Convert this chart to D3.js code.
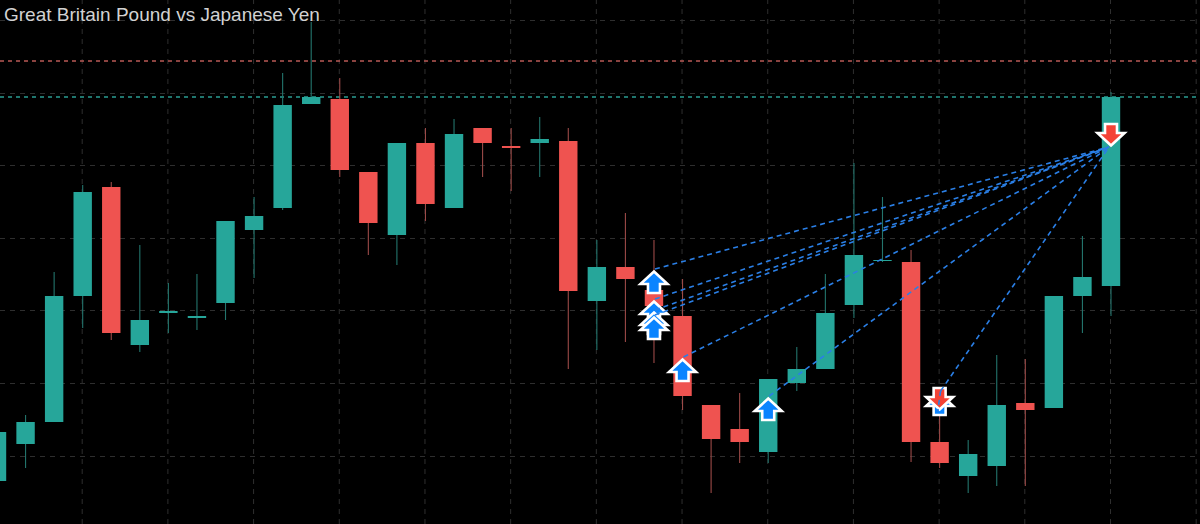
<!DOCTYPE html>
<html>
<head>
<meta charset="utf-8">
<script src="https://cdnjs.cloudflare.com/ajax/libs/d3/7.8.5/d3.min.js"></script>
<style>
html, body { margin: 0; padding: 0; background: #000; overflow: hidden; }
svg { display: block; }
</style>
</head>
<body>
<svg id="chart"></svg>
<script>
var width = 1200;
var height = 524;

// daily candles, GBPJPY
var opens = [185.19,185.56,185.78,187.04,188.13,186.55,186.87,186.82,186.97,187.70,187.92,188.96,189.01,188.28,187.65,188.57,187.92,188.72,188.54,188.57,188.59,186.99,187.33,187.10,186.84,185.95,185.71,185.48,186.17,186.31,186.95,187.39,187.38,185.58,185.24,185.34,185.97,185.92,187.04,187.14];
var highs = [185.75,185.85,187.28,188.15,188.18,187.55,187.17,187.26,187.79,188.03,189.27,189.78,189.22,188.28,188.57,188.72,188.81,188.72,188.72,188.83,188.72,187.60,187.87,187.60,187.21,185.95,186.07,186.21,186.53,187.26,188.37,188.03,187.50,186.05,185.60,186.45,186.41,187.04,187.64,189.08];
var lows = [185.10,185.32,185.78,186.72,186.60,186.48,186.67,186.70,186.80,187.22,187.90,188.96,188.23,187.45,187.35,187.79,187.92,188.23,188.09,188.23,186.31,186.50,186.58,186.37,185.90,185.07,185.37,185.37,186.09,186.31,186.82,187.38,185.38,185.32,185.07,185.14,185.14,185.92,186.67,186.84];
var closes = [185.68,185.78,187.04,188.08,186.67,186.80,186.89,186.84,187.79,187.84,188.95,189.03,188.30,187.77,188.57,187.96,188.66,188.57,188.52,188.61,187.09,187.33,187.21,186.94,186.04,185.61,185.58,186.21,186.31,186.87,187.45,187.40,185.58,185.37,185.46,185.95,185.90,187.04,187.23,189.03];

// grid
var priceTicks = [189.80,189.07,188.35,187.62,186.90,186.17,185.44];
var timeTicks = [0,3,6,9,12,15,18,21,24,27,30,33,36,39,42];

// stop loss / take profit levels
var levelPrices = [189.39,189.03];
var levelColors = ["#b95a56","#2a9d92"];

// trades
var entryIndex = [23,23,23,23,24,27,33,33];
var entryPrice = [187.31,187.01,186.90,186.85,186.43,186.04,186.09,186.09];
var exitIndex = [39,39,39,39,39,39,39,33];
var exitPrice = [188.53,188.53,188.53,188.53,188.53,188.53,188.53,185.88];
var sellIndex = [39,33];
var sellPrice = [188.52,185.88];

var titleText = "Great Britain Pound vs Japanese Yen";

var teal = "#26a69a", red = "#ef5350";
var tealWick = "#23756d", redWick = "#9c4a48";

var svg = d3.select("#chart").attr("width", width).attr("height", height);
svg.append("rect").attr("width", width).attr("height", height).attr("fill", "#000");

var x = d3.scaleLinear().domain([0, 39]).range([-3, 1111]);
var y = d3.scaleLinear().domain([184.76, 190]).range([height, 0]);

// grid drawn with axes, labels removed
var gridY = svg.append("g").call(d3.axisLeft(y).tickValues(priceTicks).tickSize(-width).tickFormat(""));
var gridX = svg.append("g").attr("transform", "translate(-1," + height + ")")
    .call(d3.axisBottom(x).tickValues(timeTicks).tickSize(-height).tickFormat(""));
svg.selectAll(".domain").remove();
svg.selectAll(".tick line")
    .attr("stroke", "#2e2e2e")
    .attr("stroke-width", 1)
    .attr("stroke-dasharray", "5,5");

// horizontal levels
svg.selectAll(".level").data(levelPrices).enter().append("line")
    .attr("class", "level")
    .attr("x1", 0).attr("x2", width)
    .attr("y1", function(d) { return y(d); })
    .attr("y2", function(d) { return y(d); })
    .attr("stroke", function(d, i) { return levelColors[i]; })
    .attr("stroke-width", 1.3)
    .attr("stroke-dasharray", "4,4");

// candles
var bodyWidth = 18.4;
var candles = opens.map(function(o, i) {
    return {i: i, o: o, h: highs[i], l: lows[i], c: closes[i], up: closes[i] >= o};
});

svg.selectAll(".wick").data(candles).enter().append("line")
    .attr("class", "wick")
    .attr("x1", function(d) { return x(d.i); })
    .attr("x2", function(d) { return x(d.i); })
    .attr("y1", function(d) { return y(d.h); })
    .attr("y2", function(d) { return y(d.l); })
    .attr("stroke", function(d) { return d.up ? tealWick : redWick; })
    .attr("stroke-width", 1.1);

svg.selectAll(".body").data(candles).enter().append("rect")
    .attr("class", "body")
    .attr("x", function(d) { return x(d.i) - bodyWidth / 2; })
    .attr("width", bodyWidth)
    .attr("y", function(d) { return y(Math.max(d.o, d.c)); })
    .attr("height", function(d) { return Math.max(1, Math.abs(y(d.o) - y(d.c))); })
    .attr("fill", function(d) { return d.up ? teal : red; });

// arrow outline, tip at 0,0 and pointing up
var arrowLine = d3.line();
var arrowShape = [[0,2.5],[13.5,15],[6,15],[6,24],[-6,24],[-6,15],[-13.5,15]];

function drawArrow(px, py, dir, fill) {
    svg.append("path")
        .attr("d", arrowLine(arrowShape) + "Z")
        .attr("transform", "translate(" + px + "," + py + ") scale(1," + dir + ")")
        .attr("fill", fill)
        .attr("stroke", "#fff")
        .attr("stroke-width", 2.6)
        .attr("stroke-linejoin", "miter")
        .attr("stroke-miterlimit", 6);
}

// buys, lowest on top of the stack
entryIndex.slice(0, 7).forEach(function(d, i) {
    drawArrow(x(d), y(entryPrice[i]), 1, "#0a84ff");
});
sellIndex.forEach(function(d, i) {
    drawArrow(x(d), y(sellPrice[i]), -1, "#f44336");
});

// trade lines
svg.selectAll(".trade").data(entryIndex).enter().append("line")
    .attr("class", "trade")
    .attr("x1", function(d) { return x(d) + 1; })
    .attr("y1", function(d, i) { return y(entryPrice[i]); })
    .attr("x2", function(d, i) { return x(exitIndex[i]) - 2; })
    .attr("y2", function(d, i) { return y(exitPrice[i]); })
    .attr("stroke", "#2a7fe6")
    .attr("stroke-width", 1.6)
    .attr("stroke-dasharray", "5,4");

svg.append("text")
    .text(titleText)
    .attr("x", 4)
    .attr("y", 21)
    .attr("font-family", "'Liberation Sans', Arial, sans-serif")
    .attr("font-size", "19px")
    .attr("fill", "#d2d2d2");
</script>
</body>
</html>
